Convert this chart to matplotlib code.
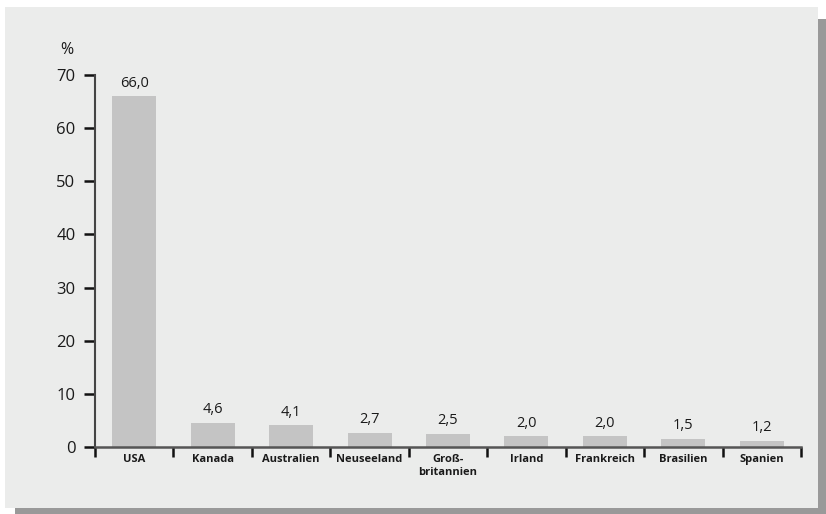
import numpy as np
import matplotlib.pyplot as plt
import matplotlib.patches as mpatches

# Data
countries = ['USA', 'Kanada', 'Australien', 'Neuseeland', 'Groß-\nbritannien',
             'Irland', 'Frankreich', 'Brasilien', 'Spanien']
shares = [66.0, 4.6, 4.1, 2.7, 2.5, 2.0, 2.0, 1.5, 1.2]
y_ticks = [0, 10, 20, 30, 40, 50, 60, 70]

PANEL = '#ebeceb'
SHADOW = '#999999'
BAR = '#c4c4c4'
TEXT = '#1a1a1a'

plt.rcParams['font.family'] = ['Open Sans', 'DejaVu Sans']

W, H = 826, 514
fig = plt.figure(figsize=(W / 100, H / 100), dpi=100)
fig.patch.set_facecolor('white')

# shadow + panel (pixel coords converted to figure fraction)
def px_rect(x0, y0, x1, y1, color):
    r = mpatches.Rectangle((x0 / W, 1 - y1 / H), (x1 - x0) / W, (y1 - y0) / H,
                           transform=fig.transFigure, facecolor=color,
                           edgecolor='none', zorder=-2)
    fig.patches.append(r)

px_rect(15, 19, 826, 514, SHADOW)
px_rect(5, 7, 818, 508, PANEL)

ax = fig.add_axes([95 / W, 1 - 447 / H, (801 - 95) / W, (447 - 75) / H])
ax.set_facecolor('none')
ax.set_zorder(1)

x = np.arange(len(countries))
ax.bar(x, shares, width=0.56, color=BAR, zorder=2)

for xi, v in zip(x, shares):
    ax.annotate(f'{v:.1f}'.replace('.', ','), (xi, v), xytext=(0, 4),
                textcoords='offset points', ha='center', va='bottom',
                fontsize=10.5, color=TEXT)

ax.set_xlim(-0.5, len(countries) - 0.5)
ax.set_ylim(0, 70)
ax.set_yticks(y_ticks)
ax.set_yticklabels([str(t) for t in y_ticks], fontsize=12, color=TEXT)
ax.tick_params(axis='y', length=8, width=1.8, color='#111111', pad=6)

# category edges get the tick marks, labels sit at centres
ax.set_xticks(np.arange(len(countries) + 1) - 0.5)
ax.set_xticklabels([])
ax.tick_params(axis='x', which='major', direction='out', length=7, width=1.8,
               color='#111111')
ax.set_xticks(x, minor=True)
ax.set_xticklabels(countries, minor=True, fontsize=8, fontweight='bold',
                   color=TEXT, linespacing=1.2)
ax.tick_params(axis='x', which='minor', length=0, pad=5)

for s in ['top', 'right']:
    ax.spines[s].set_visible(False)
ax.spines['left'].set_color('#444444')
ax.spines['left'].set_linewidth(1.5)
ax.spines['bottom'].set_color('#555555')
ax.spines['bottom'].set_linewidth(1.8)

fig.text(67 / W, 1 - 50 / H, '%', fontsize=11.5, color=TEXT, ha='center', va='center',
         zorder=3)

fig.savefig('out.png', dpi=100)
